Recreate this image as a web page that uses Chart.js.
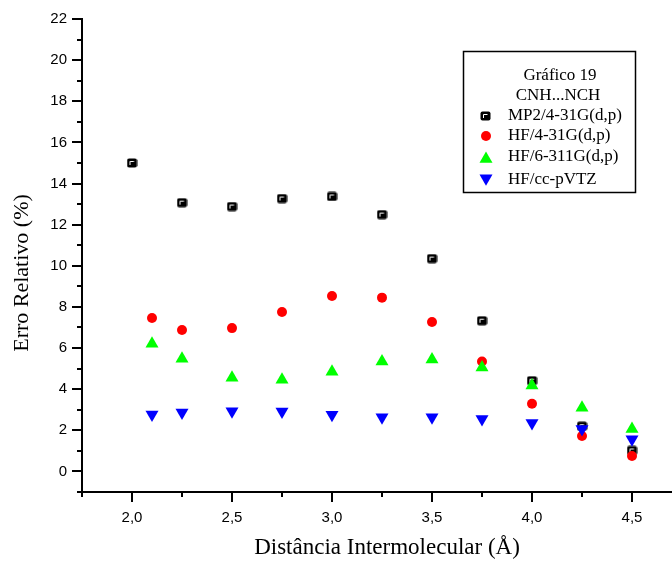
<!DOCTYPE html>
<html>
<head>
<meta charset="utf-8">
<script src="https://cdn.jsdelivr.net/npm/chart.js@4.4.1/dist/chart.umd.min.js"></script>
<style>
    html, body { margin: 0; padding: 0; background: #fff; overflow: hidden; }
</style>
</head>
<body>
<canvas id="chart" width="672" height="562"></canvas>
<script>
// Data (Gráfico 19 - CNH...NCH)
const mp2X = [2.0, 2.25, 2.5, 2.75, 3.0, 3.25, 3.5, 3.75, 4.0, 4.25, 4.5];
const mp2Y = [15.0, 13.07, 12.88, 13.27, 13.37, 12.49, 10.35, 7.33, 4.41, 2.2, 1.02];

const hfX = [2.1, 2.25, 2.5, 2.75, 3.0, 3.25, 3.5, 3.75, 4.0, 4.25, 4.5];
const hf431Y = [7.46, 6.88, 6.97, 7.75, 8.53, 8.45, 7.27, 5.35, 3.29, 1.72, 0.75];
const hf6311Y = [6.21, 5.48, 4.56, 4.46, 4.85, 5.35, 5.44, 5.05, 4.18, 3.1, 2.06];
const ccY = [2.77, 2.86, 2.93, 2.91, 2.76, 2.64, 2.64, 2.55, 2.35, 2.06, 1.57];

const seriesNames = ['MP2/4-31G(d,p)', 'HF/4-31G(d,p)', 'HF/6-311G(d,p)', 'HF/cc-pVTZ'];
const legendTitle = ['Gráfico 19', 'CNH...NCH'];

// tick values
const xTicks = [1.75, 2.0, 2.25, 2.5, 2.75, 3.0, 3.25, 3.5, 3.75, 4.0, 4.25, 4.5];
const xLabels = [2.0, 2.5, 3.0, 3.5, 4.0, 4.5];
const yTicks = [-1, 0, 1, 2, 3, 4, 5, 6, 7, 8, 9, 10, 11, 12, 13, 14, 15, 16, 17, 18, 19, 20, 21, 22];
const yLabels = [0, 2, 4, 6, 8, 10, 12, 14, 16, 18, 20, 22];

const serif = '"Liberation Serif", "Times New Roman", serif';
const sans = '"Liberation Sans", Arial, sans-serif';

function pts(xs, ys) {
    return xs.map((x, i) => ({ x: x, y: ys[i] }));
}

// black square marker with the little white corner
function squareMarker() {
    const c = document.createElement('canvas');
    c.width = 11;
    c.height = 10;
    const g = c.getContext('2d');
    g.fillStyle = '#000';
    g.beginPath();
    g.roundRect(0.5, 0.5, 10, 9, 2);
    g.fill();
    g.strokeStyle = '#fff';
    g.lineWidth = 1;
    g.beginPath();
    g.moveTo(3.5, 7);
    g.lineTo(3.5, 3.5);
    g.lineTo(7.5, 3.5);
    g.stroke();
    return c;
}
const sq = squareMarker();

// later series sit on top (lower order is drawn last)
const datasets = [
    { label: seriesNames[0], order: 3, data: pts(mp2X, mp2Y), pointStyle: sq, backgroundColor: '#000', borderColor: '#000' },
    { label: seriesNames[1], order: 2, data: pts(hfX, hf431Y), pointStyle: 'circle', pointRadius: 5, backgroundColor: '#ff0000', borderColor: '#ff0000', borderWidth: 0 },
    { label: seriesNames[2], order: 1, data: pts(hfX, hf6311Y), pointStyle: 'triangle', pointRadius: 7.5, backgroundColor: '#00ff00', borderColor: '#00ff00', borderWidth: 0 },
    { label: seriesNames[3], order: 0, data: pts(hfX, ccY), pointStyle: 'triangle', rotation: 180, pointRadius: 7.5, backgroundColor: '#0000ff', borderColor: '#0000ff', borderWidth: 0 }
];

// ticks, titles and legend box
const decorPlugin = {
    id: 'decor',
    afterDraw(chart) {
        const ctx = chart.ctx;
        const xs = chart.scales.x;
        const ys = chart.scales.y;
        const area = chart.chartArea;
        ctx.save();
        ctx.strokeStyle = '#000';
        ctx.lineWidth = 2;

        // x ticks
        xTicks.forEach(v => {
            const px = Math.round(xs.getPixelForValue(v));
            const major = xLabels.some(l => Math.abs(l - v) < 1e-6);
            ctx.beginPath();
            ctx.moveTo(px, area.bottom);
            ctx.lineTo(px, area.bottom + (major ? 10 : 5));
            ctx.stroke();
        });
        // y ticks
        yTicks.forEach(v => {
            const py = Math.round(ys.getPixelForValue(v));
            const major = yLabels.includes(v);
            ctx.beginPath();
            ctx.moveTo(area.left, py);
            ctx.lineTo(area.left - (major ? 10 : 5), py);
            ctx.stroke();
        });

        // axis titles
        ctx.fillStyle = '#000';
        ctx.font = '23px ' + serif;
        ctx.textAlign = 'center';
        ctx.textBaseline = 'middle';
        ctx.fillText('Distância Intermolecular (Å)', 387, 548);
        ctx.font = '22px ' + serif;
        ctx.save();
        ctx.translate(22, 273);
        ctx.rotate(-Math.PI / 2);
        ctx.fillText('Erro Relativo (%)', 0, 0);
        ctx.restore();

        // legend box
        ctx.lineWidth = 1.5;
        ctx.strokeRect(463.5, 51.5, 172, 141);
        ctx.font = '17px ' + serif;
        ctx.fillText(legendTitle[0], 560, 76);
        ctx.fillText(legendTitle[1], 558, 96);
        const rowY = [116, 136, 157, 180];
        ctx.textAlign = 'left';
        chart.data.datasets.forEach((ds, i) => {
            ctx.fillStyle = '#000';
            ctx.fillText(ds.label, 508, rowY[i]);
            const mx = 485;
            const my = rowY[i];
            ctx.fillStyle = ds.backgroundColor;
            if (i === 0) {
                ctx.drawImage(sq, mx - 5, my - 5);
            } else if (i === 1) {
                ctx.beginPath();
                ctx.arc(mx + 1, my, 5, 0, Math.PI * 2);
                ctx.fill();
            } else {
                const r = 7.5;
                const s = i === 3 ? -1 : 1;
                const cy = my + s * 0.25 * r;
                ctx.beginPath();
                ctx.moveTo(mx + 1, cy - s * r);
                ctx.lineTo(mx + 1 + r * 0.866, cy + s * r * 0.5);
                ctx.lineTo(mx + 1 - r * 0.866, cy + s * r * 0.5);
                ctx.closePath();
                ctx.fill();
            }
        });
        ctx.restore();
    }
};

new Chart(document.getElementById('chart'), {
    type: 'scatter',
    data: { datasets: datasets },
    options: {
        responsive: false,
        animation: false,
        devicePixelRatio: 1,
        layout: { autoPadding: false, padding: { top: 19, right: 0, left: 0, bottom: 0 } },
        plugins: {
            legend: { display: false },
            tooltip: { enabled: false }
        },
        scales: {
            x: {
                type: 'linear',
                min: 1.75,
                max: 4.7,
                // extra unlabeled tick at the max so no room is kept for a last label
                afterBuildTicks: (scale) => { scale.ticks = xTicks.concat([scale.max]).map(v => ({ value: v })); },
                afterFit: (scale) => { scale.height = 70; },
                border: { color: '#000', width: 2 },
                grid: { display: true, drawOnChartArea: false, tickLength: 17, tickColor: 'rgba(0,0,0,0)' },
                ticks: {
                    autoSkip: false,
                    maxRotation: 0,
                    padding: 0,
                    color: '#000',
                    font: { family: sans, size: 15 },
                    callback: (v) => xLabels.some(l => Math.abs(l - v) < 1e-6) ? v.toFixed(1).replace('.', ',') : ''
                }
            },
            y: {
                type: 'linear',
                min: -1,
                max: 22,
                afterBuildTicks: (scale) => { scale.ticks = yTicks.map(v => ({ value: v })); },
                afterFit: (scale) => { scale.width = 82; },
                border: { color: '#000', width: 2 },
                grid: { display: true, drawOnChartArea: false, tickLength: 10, tickColor: 'rgba(0,0,0,0)' },
                ticks: {
                    autoSkip: false,
                    padding: 5,
                    color: '#000',
                    font: { family: sans, size: 15 },
                    callback: (v) => yLabels.includes(v) ? String(v) : ''
                }
            }
        }
    },
    plugins: [decorPlugin]
});
</script>
</body>
</html>
